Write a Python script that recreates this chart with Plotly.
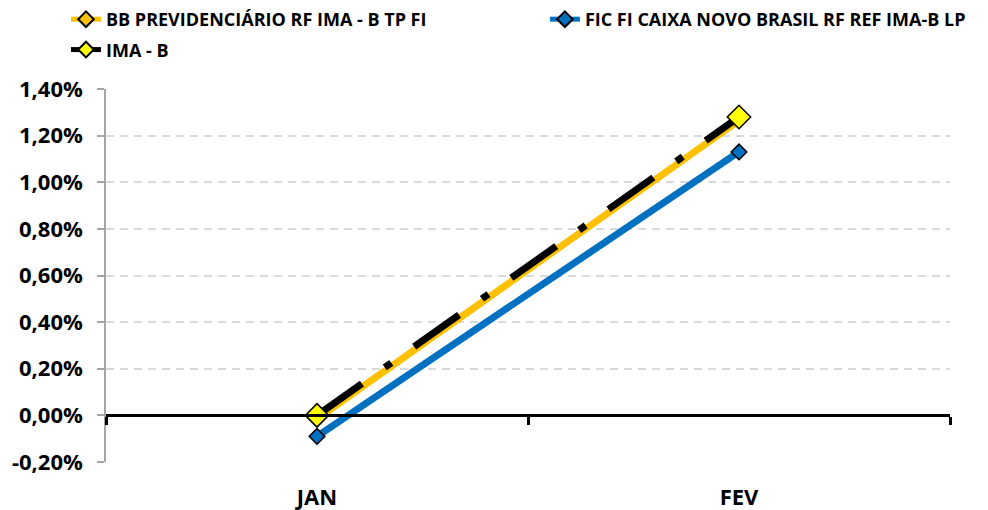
import plotly.graph_objects as go

categories = ["JAN", "FEV"]
bb_prev = [-0.015, 1.265]
fic_caixa = [-0.09, 1.13]
ima_b = [0.0, 1.28]
ytick_vals = [-0.2, 0.0, 0.2, 0.4, 0.6, 0.8, 1.0, 1.2, 1.4]
ytick_text = ["-0,20%", "0,00%", "0,20%", "0,40%", "0,60%", "0,80%", "1,00%", "1,20%", "1,40%"]
names = ["BB PREVIDENCIÁRIO RF IMA - B TP FI", "FIC FI CAIXA NOVO BRASIL RF REF IMA-B LP", "IMA - B"]

FONT = "Open Sans"
fig = go.Figure()
fig.add_trace(go.Scatter(
    x=categories, y=bb_prev, name=names[0], mode="lines+markers", legend="legend", legendgroup="a",
    line=dict(color="#FFC000", width=7),
    marker=dict(symbol="diamond", size=10, color="#FFC000", line=dict(color="black", width=1.5)),
))
fig.add_trace(go.Scatter(
    x=categories, y=fic_caixa, name=names[1], mode="lines+markers", legend="legend2",
    line=dict(color="#0070C0", width=7),
    marker=dict(symbol="diamond", size=12, color="#0070C0", line=dict(color="black", width=1.5)),
))
fig.add_trace(go.Scatter(
    x=categories, y=ima_b, name=names[2], mode="lines+markers", legend="legend", legendgroup="b",
    line=dict(color="black", width=7, dash="55px,28px,8px,28px"),
    marker=dict(symbol="diamond", size=18, color="#FFFF00", line=dict(color="black", width=1.5)),
))
# overlay axis used to draw the category axis line at zero
fig.add_trace(go.Scatter(x=[0], y=[0], xaxis="x2", mode="markers",
                         marker=dict(opacity=0), showlegend=False, hoverinfo="skip"))

legend_font = dict(family=FONT, size=18, color="black", weight="bold")
fig.update_layout(
    width=980, height=502,
    margin=dict(l=98, r=38, t=81, b=48, autoexpand=False),
    plot_bgcolor="white", paper_bgcolor="white",
    font=dict(family=FONT, size=16, color="black"),
    showlegend=True,
    legend=dict(orientation="v", x=-0.0474, y=1.236, xanchor="left", yanchor="top",
                font=legend_font, itemsizing="constant", traceorder="grouped",
                tracegroupgap=4, bgcolor="rgba(0,0,0,0)"),
    legend2=dict(orientation="v", x=0.520, y=1.236, xanchor="left", yanchor="top",
                 font=legend_font, itemsizing="constant", bgcolor="rgba(0,0,0,0)"),
    xaxis=dict(type="category", range=[-0.5, 1.5], showgrid=False, showline=False,
               zeroline=False, ticks="", ticklabelstandoff=20,
               tickfont=dict(family=FONT, size=22, weight="bold")),
    xaxis2=dict(overlaying="x", anchor="free", position=0.125, range=[-0.5, 1.5],
                showgrid=False, zeroline=False, showline=True, linecolor="black", linewidth=3,
                ticks="outside", tickvals=[-0.5, 0.5, 1.5], ticklen=8, tickwidth=3,
                tickcolor="black", showticklabels=False),
    yaxis=dict(range=[-0.2, 1.4], tickvals=ytick_vals, ticktext=ytick_text,
               showgrid=True, gridcolor="#D9D9D9", gridwidth=2, griddash="8px,6px",
               zeroline=False, showline=True, linecolor="#A6A6A6", linewidth=1.5,
               ticks="outside", ticklen=7, tickcolor="#A6A6A6", tickwidth=1.5,
               ticklabelstandoff=10,
               tickfont=dict(family=FONT, size=22, weight="bold")),
)
fig.write_html("out.html")
